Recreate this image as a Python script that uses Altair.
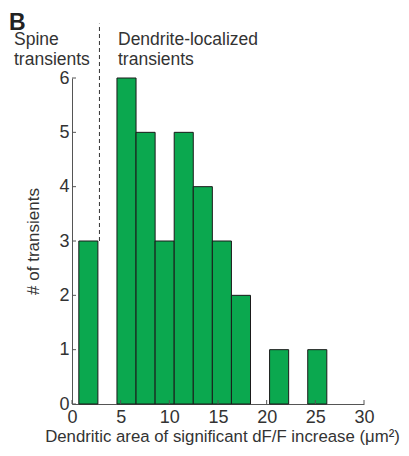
import altair as alt
import pandas as pd

# histogram bins (left edge of each bin, µm²) and counts
bin_start = [0.70, 2.66, 4.62, 6.58, 8.54, 10.50, 12.46, 14.42, 16.38, 18.34, 20.30, 22.26, 24.22]
bin_width = 1.96
counts = [3, 0, 6, 5, 3, 5, 4, 3, 2, 0, 1, 0, 1]

x_ticks = [0, 5, 10, 15, 20, 25, 30]
y_ticks = [0, 1, 2, 3, 4, 5, 6]

divider_x = 2.82

FONT = "Liberation Sans"
TXT = "#333333"
AX = "#555555"

bars_df = pd.DataFrame({
    "start": bin_start,
    "end": [s + bin_width for s in bin_start],
    "count": counts,
    "base": [0] * len(counts),
})

xs = alt.Scale(domain=[0, 30], nice=False, zero=False)
ys = alt.Scale(domain=[0, 6], nice=False)

bars = alt.Chart(bars_df).transform_filter("datum.count > 0").mark_bar(
    color="#0BA84F", stroke="#1a1a1a", strokeWidth=1
).encode(
    x=alt.X("start:Q", scale=xs, axis=alt.Axis(
        values=x_ticks, title="Dendritic area of significant dF/F increase (μm²)",
        grid=False, ticks=False, domainColor=AX, labelFont=FONT, labelFontSize=18,
        labelColor=TXT, labelPadding=4, titleFont=FONT, titleFontSize=16.8,
        titleFontWeight="normal", titleColor=TXT, titlePadding=2, labelFlush=False,
        titleX=150, titleAlign="center", titleAnchor="middle",
        format="d")),
    x2="end:Q",
    y=alt.Y("count:Q", scale=ys, axis=alt.Axis(
        values=y_ticks, title="# of transients", grid=False, ticks=False,
        domainColor=AX, labelFont=FONT, labelFontSize=18, labelColor=TXT,
        labelPadding=3, titleFont=FONT, titleFontSize=17, titleFontWeight="normal",
        titleColor=TXT, titlePadding=16, labelFlush=False, format="d")),
    y2="base:Q",
)

xt_df = pd.DataFrame({"v": x_ticks})
xtick = alt.Chart(xt_df).mark_rule(color=AX, strokeWidth=1).encode(
    x=alt.X("v:Q", scale=xs), y=alt.value(326), y2=alt.value(322))
yt_df = pd.DataFrame({"v": y_ticks})
ytick = alt.Chart(yt_df).mark_rule(color=AX, strokeWidth=1).encode(
    y=alt.Y("v:Q", scale=ys), x=alt.value(0), x2=alt.value(4))

div_df = pd.DataFrame({"x": [divider_x], "y1": [3], "y2": [7]})
divider = alt.Chart(div_df).mark_rule(color="#333333", strokeWidth=1, strokeDash=[4, 3]).encode(
    x=alt.X("x:Q", scale=xs), y=alt.Y("y1:Q", scale=ys), y2="y2:Q")

labels_df = pd.DataFrame({
    "text": ["B", "Spine", "transients", "Dendrite-localized", "transients"],
    "px": [-63, -58, -58, 46, 46],
    "py": [-48, -33, -13, -33, -13],
    "size": [23, 17.5, 17.5, 17.5, 17.5],
    "weight": ["bold", "normal", "normal", "normal", "normal"],
})
annots = []
for _, r in labels_df.iterrows():
    annots.append(alt.Chart(pd.DataFrame({"t": [r["text"]]})).mark_text(
        align="left", baseline="alphabetic", font=FONT, fontSize=float(r["size"]),
        fontWeight=r["weight"], color="#222222" if r["weight"] == "bold" else TXT
    ).encode(text="t:N", x=alt.value(int(r["px"])), y=alt.value(int(r["py"]))))

chart = alt.layer(bars, xtick, ytick, divider, *annots).properties(
    width=292, height=326,
    autosize=alt.AutoSizeParams(type="none"),
    padding={"left": 64, "top": 70, "right": 37, "bottom": 44},
    background="white",
).configure_view(strokeWidth=0, stroke=None)

chart.save("out.html", embed_options={"renderer": "svg", "actions": False})
